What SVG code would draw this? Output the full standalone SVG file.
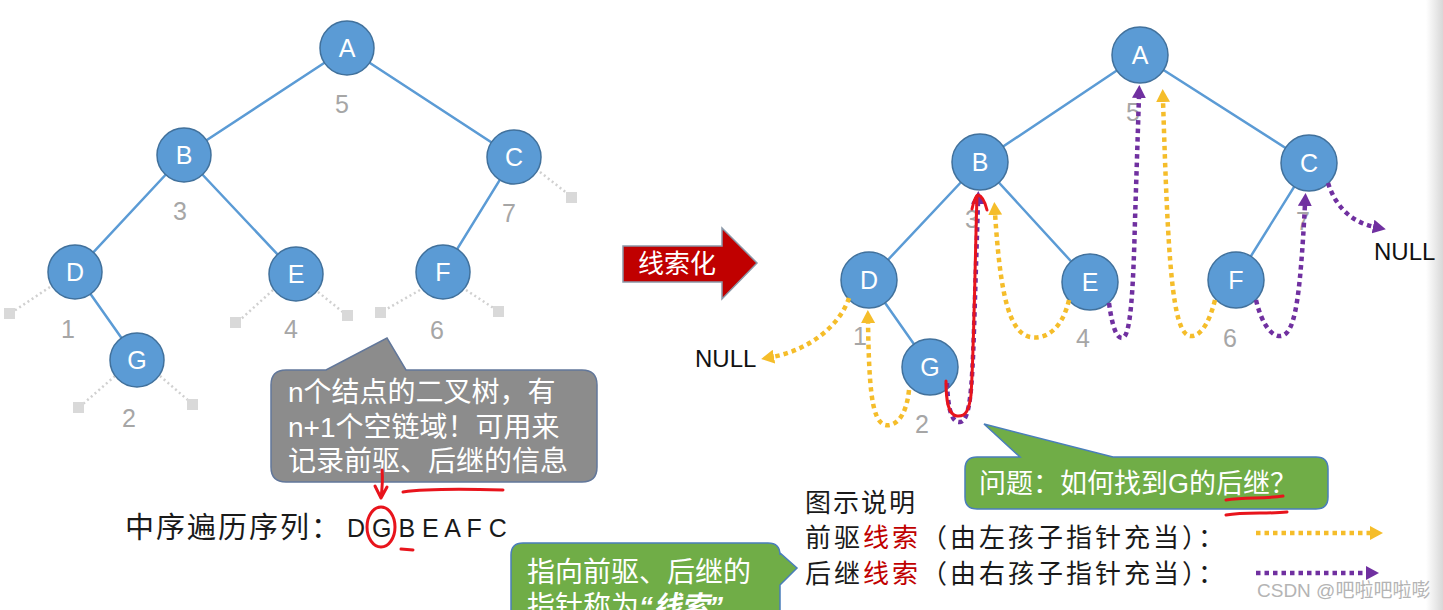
<svg xmlns="http://www.w3.org/2000/svg" width="1443" height="610" viewBox="0 0 1443 610">
<style>
.edge{stroke:#5b9bd5;stroke-width:2.5;fill:none}
.node circle{fill:#5b9bd5;stroke:#41719c;stroke-width:1.5}
.node text{fill:#fff;font-family:"Liberation Sans",Arial,sans-serif;font-size:25px;text-anchor:middle}
.num{fill:#a6a6a6;font-family:"Liberation Sans",Arial,sans-serif;font-size:25px;text-anchor:middle}
.stub{stroke:#d0d0d0;stroke-width:2.5;stroke-dasharray:2 3;fill:none}
.sq{fill:#d9d9d9}
.pre{stroke:#f5bd2a;stroke-width:4.5;stroke-dasharray:4.5 4;fill:none}
.suc{stroke:#7030a0;stroke-width:4.5;stroke-dasharray:4.5 4;fill:none}
.red{stroke:#e8141c;stroke-width:3;fill:none;stroke-linecap:round;stroke-linejoin:round}
.cjk{font-family:"Liberation Sans","Noto Sans CJK SC",sans-serif}
.wt{fill:#fff}
.bk{fill:#1a1a1a}
.null{fill:#111;font-family:"Liberation Sans",Arial,sans-serif;font-size:24px}
</style>
<defs>
<marker id="ay" markerUnits="userSpaceOnUse" markerWidth="14" markerHeight="14" refX="2" refY="7" orient="auto"><path d="M0,0 L13,7 L0,14 z" fill="#f5bd2a"/></marker>
<marker id="ap" markerUnits="userSpaceOnUse" markerWidth="14" markerHeight="14" refX="2" refY="7" orient="auto"><path d="M0,0 L13,7 L0,14 z" fill="#7030a0"/></marker>
<linearGradient id="edgeg" x1="0" y1="0" x2="1" y2="0"><stop offset="0" stop-color="#fff"/><stop offset="1" stop-color="#d8d8d8"/></linearGradient>
</defs>
<rect width="1443" height="610" fill="#fff"/>
<rect x="1426" y="0" width="17" height="610" fill="url(#edgeg)"/>

<!-- LEFT TREE -->
<g id="left-stubs">
<path class="stub" d="M540 172 L568 194 M50 287 L14 311 M273 290 L240 320 M318 292 L344 313 M420 290 L385 310 M466 290 L495 309 M115 376 L83 404 M160 376 L189 401"/>
<rect class="sq" x="566" y="192" width="11" height="11"/>
<rect class="sq" x="4" y="308" width="11" height="11"/>
<rect class="sq" x="230" y="317" width="11" height="11"/>
<rect class="sq" x="342" y="310" width="11" height="11"/>
<rect class="sq" x="375" y="307" width="11" height="11"/>
<rect class="sq" x="493" y="306" width="11" height="11"/>
<rect class="sq" x="73" y="402" width="11" height="11"/>
<rect class="sq" x="187" y="399" width="11" height="11"/>
</g>
<g id="left-edges">
<path class="edge" d="M347 48 L184 155 M347 48 L514 157 M184 155 L75 272 M184 155 L296 274 M514 157 L443 272 M75 272 L137 360"/>
</g>
<g id="l-A" class="node"><circle cx="347" cy="48" r="27"/><text x="347" y="57">A</text></g>
<g id="l-B" class="node"><circle cx="184" cy="155" r="27"/><text x="184" y="164">B</text></g>
<g id="l-C" class="node"><circle cx="514" cy="157" r="27"/><text x="514" y="166">C</text></g>
<g id="l-D" class="node"><circle cx="75" cy="272" r="27"/><text x="75" y="281">D</text></g>
<g id="l-E" class="node"><circle cx="296" cy="274" r="27"/><text x="296" y="283">E</text></g>
<g id="l-F" class="node"><circle cx="443" cy="272" r="27"/><text x="443" y="281">F</text></g>
<g id="l-G" class="node"><circle cx="137" cy="360" r="27"/><text x="137" y="369">G</text></g>
<g id="left-nums">
<text class="num" x="342" y="113">5</text>
<text class="num" x="180" y="220">3</text>
<text class="num" x="509" y="222">7</text>
<text class="num" x="68" y="338">1</text>
<text class="num" x="291" y="338">4</text>
<text class="num" x="437" y="339">6</text>
<text class="num" x="129" y="427">2</text>
</g>

<!-- Gray callout -->
<g id="callout-gray">
<path d="M286 370 L326 370 L387 338 L406 370 L582 370 Q597 370 597 385 L597 467 Q597 482 582 482 L286 482 Q271 482 271 467 L271 385 Q271 370 286 370 Z" fill="#8c8c8c" stroke="#62779a" stroke-width="1.5"/>
<text class="cjk wt" font-size="28" x="288" y="402">n个结点的二叉树，有</text>
<text class="cjk wt" font-size="28" x="288" y="437">n+1个空链域！可用来</text>
<text class="cjk wt" font-size="28" x="288" y="471">记录前驱、后继的信息</text>
</g>

<!-- sequence -->
<g id="sequence">
<text class="cjk bk" font-size="29" letter-spacing="2" x="125" y="538">中序遍历序列：</text>
<text class="bk" font-family="Liberation Sans,Arial,sans-serif" font-size="25" x="347" y="537">D G B E A F C</text>
</g>
<g id="red-notes-left">
<path class="red" d="M382 470 C383 480 382 490 381 498 M375 486 L381 498 L387 487"/>
<ellipse class="red" cx="381" cy="527" rx="14" ry="20"/>
<path class="red" d="M403 492 C430 488 470 489 503 490"/>
<path class="red" stroke-width="4" d="M401 549 L413 550"/>
</g>

<!-- transform arrow -->
<g id="arrow-thread">
<path d="M623 246 L722 246 L722 228 L757 263 L722 299 L722 282 L623 282 Z" fill="#c00000" stroke="#8a98a8" stroke-width="1.5"/>
<text class="cjk wt" font-size="26" x="638" y="273">线索化</text>
</g>

<!-- green callout left -->
<g id="callout-green-left">
<path d="M523 543 L768 543 Q780 543 780 555 L780 553 L797 568 L780 585 L780 620 L511 620 L511 555 Q511 543 523 543 Z" fill="#70ad47" stroke="#4a7ebb" stroke-width="1.5"/>
<text class="cjk wt" font-size="28" x="527" y="582">指向前驱、后继的</text>
<text class="cjk wt" font-size="28" x="527" y="616">指针称为<tspan font-weight="bold" font-style="italic">“线索”</tspan></text>
</g>

<!-- RIGHT TREE -->
<g id="right-edges">
<path class="edge" d="M1140 55 L980 162 M1140 55 L1309 163 M980 162 L869 280 M980 162 L1090 282 M1309 163 L1236 280 M869 280 L930 367"/>
</g>
<g id="r-A" class="node"><circle cx="1140" cy="55" r="28"/><text x="1140" y="64">A</text></g>
<g id="r-B" class="node"><circle cx="980" cy="162" r="28"/><text x="980" y="171">B</text></g>
<g id="r-C" class="node"><circle cx="1309" cy="163" r="28"/><text x="1309" y="172">C</text></g>
<g id="r-D" class="node"><circle cx="869" cy="280" r="28"/><text x="869" y="289">D</text></g>
<g id="r-E" class="node"><circle cx="1090" cy="282" r="28"/><text x="1090" y="291">E</text></g>
<g id="r-F" class="node"><circle cx="1236" cy="280" r="28"/><text x="1236" y="289">F</text></g>
<g id="r-G" class="node"><circle cx="930" cy="367" r="28"/><text x="930" y="376">G</text></g>
<g id="right-nums">
<text class="num" x="1133" y="121">5</text>
<text class="num" x="972" y="228">3</text>
<text class="num" x="1303" y="230">7</text>
<text class="num" x="860" y="345">1</text>
<text class="num" x="922" y="433">2</text>
<text class="num" x="1083" y="347">4</text>
<text class="num" x="1230" y="347">6</text>
</g>
<text class="null" x="695" y="367">NULL</text>
<text class="null" x="1374" y="260">NULL</text>

<g id="threads">
<path class="pre" marker-end="url(#ay)" d="M849 298 C840 325 810 350 772 357"/>
<path class="pre" marker-end="url(#ay)" d="M909 390 C906 420 893 427 885 425 C872 421 869 390 868 321"/>
<path class="pre" marker-end="url(#ay)" d="M1069 300 C1062 330 1045 340 1030 337 C1008 332 1000 290 995 213"/>
<path class="pre" marker-end="url(#ay)" d="M1215 300 C1208 328 1198 337 1190 336 C1172 333 1168 260 1163 100"/>
<path class="suc" marker-end="url(#ap)" d="M947 383 C948 410 952 423 960 422 C970 421 972 390 974 330 L978 202"/>
<path class="suc" marker-end="url(#ap)" d="M1109 303 C1112 325 1116 338 1122 338 C1130 338 1133 300 1135 220 L1139 96"/>
<path class="suc" marker-end="url(#ap)" d="M1256 300 C1262 325 1272 337 1281 336 C1295 334 1300 300 1305 204"/>
<path class="suc" marker-end="url(#ap)" d="M1328 183 C1335 205 1350 222 1375 227"/>
</g>
<g id="red-notes-right">
<path class="red" d="M946 381 C946 400 948 415 957 416 C966 417 969 410 971 395 C974 350 975 260 977 196"/>
<path class="red" d="M972 209 C974 200 976 195 978 195 C982 196 985 202 987 210"/>
</g>

<!-- green callout right -->
<g id="callout-green-right">
<path d="M977 457 L1020 457 L984 424 L1113 457 L1316 457 Q1328 457 1328 469 L1328 497 Q1328 509 1316 509 L977 509 Q965 509 965 497 L965 469 Q965 457 977 457 Z" fill="#70ad47" stroke="#4a7ebb" stroke-width="1.5"/>
<text class="cjk wt" font-size="27" x="979" y="493">问题：如何找到G的后继？</text>
<path class="red" d="M1226 500 C1245 497 1265 499 1283 496 M1226 515 C1245 512 1268 514 1287 512"/>
</g>

<!-- legend -->
<g id="legend">
<text class="cjk bk" font-size="26" letter-spacing="2" x="805" y="512">图示说明</text>
<text class="cjk bk" font-size="26" letter-spacing="3" x="805" y="547">前驱<tspan fill="#c00000">线索</tspan>（由左孩子指针充当）：</text>
<text class="cjk bk" font-size="26" letter-spacing="3" x="805" y="583">后继<tspan fill="#c00000">线索</tspan>（由右孩子指针充当）：</text>
<path class="pre" marker-end="url(#ay)" d="M1256 533 L1372 533"/>
<path class="suc" marker-end="url(#ap)" d="M1256 573 L1368 573"/>
</g>
<text class="cjk" font-size="19" fill="#b4b4b4" x="1257" y="597">CSDN @吧啦吧啦嘭</text>
</svg>
